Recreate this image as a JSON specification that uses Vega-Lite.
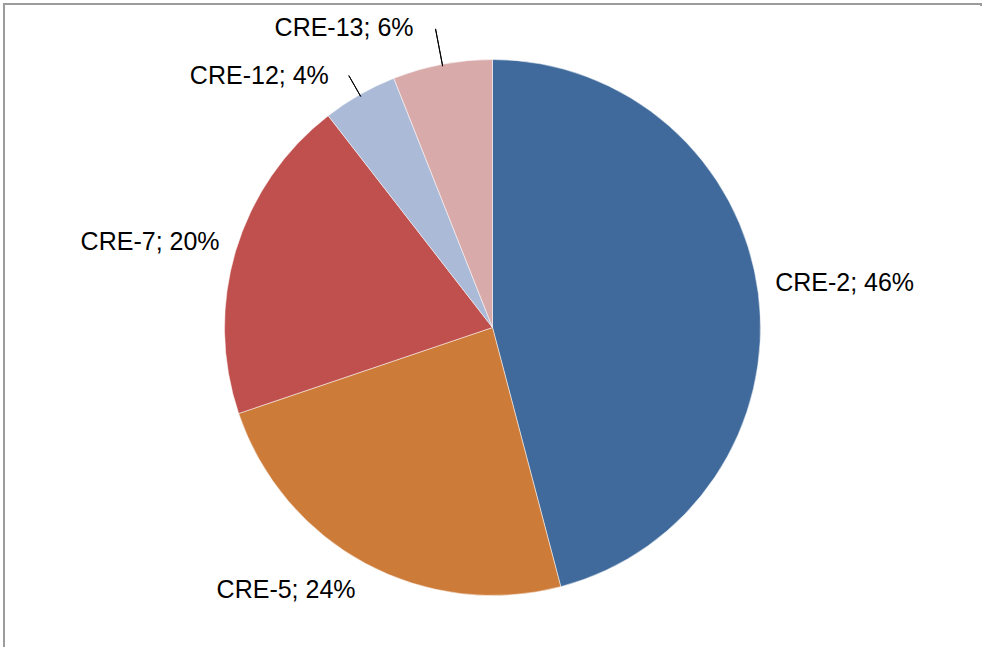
{
  "$schema": "https://vega.github.io/schema/vega-lite/v6.json",
  "autosize": {"type": "fit", "contains": "padding"},
  "width": 982,
  "height": 652,
  "padding": {"left": 3, "top": 3, "right": 0, "bottom": 0},
  "background": "white",
  "config": {"view": {"stroke": null}},
  "data": {
    "values": [
      {"cat": "CRE-2", "ord": 1, "value": 45.9, "label": "CRE-2; 46%"},
      {"cat": "CRE-5", "ord": 2, "value": 23.9, "label": "CRE-5; 24%"},
      {"cat": "CRE-7", "ord": 3, "value": 19.7, "label": "CRE-7; 20%"},
      {"cat": "CRE-12", "ord": 4, "value": 4.5, "label": "CRE-12; 4%"},
      {"cat": "CRE-13", "ord": 5, "value": 6.0, "label": "CRE-13; 6%"}
    ]
  },
  "layer": [
    {
      "mark": {"type": "rect", "filled": false, "stroke": "#9c9c9c", "strokeWidth": 2, "strokeDash": [979, 1626, 800, 0]},
      "encoding": {}
    },
    {
      "mark": {"type": "arc", "outerRadius": 268, "stroke": "white", "strokeWidth": 0.5},
      "encoding": {
        "theta": {"field": "value", "type": "quantitative", "stack": true},
        "order": {"field": "ord", "type": "quantitative"},
        "color": {
          "field": "cat", "type": "nominal", "legend": null,
          "scale": {
            "domain": ["CRE-2", "CRE-5", "CRE-7", "CRE-12", "CRE-13"],
            "range": ["#3F6A9B", "#CD7B38", "#C0504D", "#AABAD7", "#D9AAAA"]
          }
        }
      }
    },
    {
      "mark": {"type": "arc", "filled": false, "innerRadius": 266, "outerRadius": 290, "padAngle": 3.2, "stroke": "black", "strokeWidth": 1},
      "encoding": {
        "theta": {"field": "value", "type": "quantitative", "stack": true},
        "order": {"field": "ord", "type": "quantitative"},
        "strokeOpacity": {"condition": {"test": "datum.cat === 'CRE-12'", "value": 1}, "value": 0}
      }
    },
    {
      "mark": {"type": "arc", "filled": false, "innerRadius": 266, "outerRadius": 304, "padAngle": 3.2, "stroke": "black", "strokeWidth": 1},
      "encoding": {
        "theta": {"field": "value", "type": "quantitative", "stack": true},
        "order": {"field": "ord", "type": "quantitative"},
        "strokeOpacity": {"condition": {"test": "datum.cat === 'CRE-13'", "value": 1}, "value": 0}
      }
    },
    {
      "mark": {"type": "text", "radius": 285, "align": "left", "baseline": "middle", "dy": -8, "font": "Liberation Sans", "fontSize": 25, "color": "black"},
      "encoding": {
        "theta": {"field": "value", "type": "quantitative", "stack": true},
        "order": {"field": "ord", "type": "quantitative"},
        "text": {"condition": {"test": "datum.cat === 'CRE-2'", "field": "label"}, "value": ""}
      }
    },
    {
      "mark": {"type": "text", "radius": 285, "align": "right", "baseline": "middle", "dy": -3, "font": "Liberation Sans", "fontSize": 25, "color": "black"},
      "encoding": {
        "theta": {"field": "value", "type": "quantitative", "stack": true},
        "order": {"field": "ord", "type": "quantitative"},
        "text": {"condition": {"test": "datum.cat === 'CRE-7'", "field": "label"}, "value": ""}
      }
    },
    {
      "mark": {"type": "text", "radius": 285, "align": "right", "baseline": "top", "dx": -2, "dy": -1, "font": "Liberation Sans", "fontSize": 25, "color": "black"},
      "encoding": {
        "theta": {"field": "value", "type": "quantitative", "stack": true},
        "order": {"field": "ord", "type": "quantitative"},
        "text": {"condition": {"test": "datum.cat === 'CRE-5'", "field": "label"}, "value": ""}
      }
    },
    {
      "mark": {"type": "text", "radius": 290, "align": "right", "baseline": "middle", "dx": -20, "font": "Liberation Sans", "fontSize": 25, "color": "black"},
      "encoding": {
        "theta": {"field": "value", "type": "quantitative", "stack": true},
        "order": {"field": "ord", "type": "quantitative"},
        "text": {"condition": {"test": "datum.cat === 'CRE-12'", "field": "label"}, "value": ""}
      }
    },
    {
      "mark": {"type": "text", "radius": 304, "align": "right", "baseline": "middle", "dx": -22, "dy": -1, "font": "Liberation Sans", "fontSize": 25, "color": "black"},
      "encoding": {
        "theta": {"field": "value", "type": "quantitative", "stack": true},
        "order": {"field": "ord", "type": "quantitative"},
        "text": {"condition": {"test": "datum.cat === 'CRE-13'", "field": "label"}, "value": ""}
      }
    }
  ]
}
